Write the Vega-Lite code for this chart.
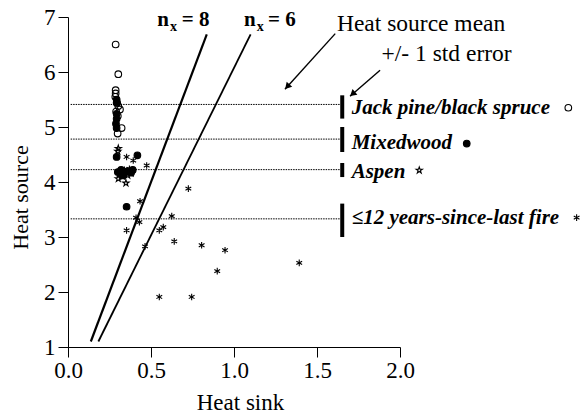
{
  "$schema": "https://vega.github.io/schema/vega-lite/v6.json",
  "width": 332,
  "height": 330,
  "autosize": "none",
  "padding": {"left": 68, "top": 17, "right": 181, "bottom": 68},
  "background": "white",
  "config": {
    "view": {"stroke": null},
    "font": "Liberation Serif, Times New Roman, serif",
    "axis": {"domainColor": "black", "tickColor": "black", "labelColor": "black", "titleColor": "black", "labelFont": "Liberation Serif, Times New Roman, serif", "titleFont": "Liberation Serif, Times New Roman, serif", "labelFontSize": 23, "titleFontSize": 23, "titleFontWeight": "normal", "grid": false, "tickSize": 10, "domainWidth": 1, "tickWidth": 1, "labelFlush": false, "labelOverlap": false}
  },
  "datasets": {
    "pts": [
      {"x": 0.287, "y": 6.50, "g": "jp"}, {"x": 0.303, "y": 5.96, "g": "jp"}, {"x": 0.287, "y": 5.67, "g": "jp"}, {"x": 0.287, "y": 5.61, "g": "jp"}, {"x": 0.285, "y": 5.55, "g": "jp"}, {"x": 0.296, "y": 5.44, "g": "jp"}, {"x": 0.303, "y": 5.38, "g": "jp"}, {"x": 0.313, "y": 5.32, "g": "jp"}, {"x": 0.290, "y": 5.28, "g": "jp"}, {"x": 0.300, "y": 5.20, "g": "jp"}, {"x": 0.323, "y": 4.98, "g": "jp"}, {"x": 0.299, "y": 4.88, "g": "jp"},
      {"x": 0.293, "y": 5.50, "g": "mw"}, {"x": 0.293, "y": 5.44, "g": "mw"}, {"x": 0.293, "y": 5.24, "g": "mw"}, {"x": 0.293, "y": 5.15, "g": "mw"}, {"x": 0.289, "y": 5.06, "g": "mw"}, {"x": 0.293, "y": 4.98, "g": "mw"}, {"x": 0.293, "y": 4.455, "g": "mw"}, {"x": 0.418, "y": 4.485, "g": "mw"}, {"x": 0.353, "y": 3.55, "g": "mw"}, {"x": 0.30, "y": 4.18, "g": "mw"}, {"x": 0.32, "y": 4.22, "g": "mw"}, {"x": 0.34, "y": 4.16, "g": "mw"}, {"x": 0.36, "y": 4.20, "g": "mw"}, {"x": 0.38, "y": 4.17, "g": "mw"}, {"x": 0.39, "y": 4.22, "g": "mw"}, {"x": 0.33, "y": 4.12, "g": "mw"},
      {"x": 0.303, "y": 4.61, "g": "as"}, {"x": 0.300, "y": 4.56, "g": "as"}, {"x": 0.303, "y": 4.06, "g": "as"}, {"x": 0.349, "y": 3.98, "g": "as"}, {"x": 0.33, "y": 4.10, "g": "as"}, {"x": 0.36, "y": 4.12, "g": "as"}, {"x": 0.315, "y": 4.17, "g": "as"}, {"x": 0.38, "y": 4.16, "g": "as"},
      {"x": 0.353, "y": 4.455, "g": "fi"}, {"x": 0.393, "y": 4.39, "g": "fi"}, {"x": 0.474, "y": 4.30, "g": "fi"}, {"x": 0.34, "y": 4.22, "g": "fi"}, {"x": 0.37, "y": 4.24, "g": "fi"}, {"x": 0.31, "y": 4.12, "g": "fi"}, {"x": 0.434, "y": 3.65, "g": "fi"}, {"x": 0.41, "y": 3.35, "g": "fi"}, {"x": 0.43, "y": 3.27, "g": "fi"}, {"x": 0.625, "y": 3.38, "g": "fi"}, {"x": 0.55, "y": 3.12, "g": "fi"}, {"x": 0.574, "y": 3.18, "g": "fi"}, {"x": 0.353, "y": 3.12, "g": "fi"}, {"x": 0.64, "y": 2.92, "g": "fi"}, {"x": 0.805, "y": 2.85, "g": "fi"}, {"x": 0.946, "y": 2.76, "g": "fi"}, {"x": 0.899, "y": 2.38, "g": "fi"}, {"x": 0.745, "y": 1.91, "g": "fi"}, {"x": 0.55, "y": 1.91, "g": "fi"}, {"x": 1.393, "y": 2.53, "g": "fi"}, {"x": 0.725, "y": 3.88, "g": "fi"}, {"x": 0.464, "y": 2.83, "g": "fi"}
    ],
    "legsym": [
      {"x": 3.014, "y": 5.35, "g": "jp"}, {"x": 2.402, "y": 4.698, "g": "mw"}, {"x": 2.116, "y": 4.213, "g": "as"}, {"x": 3.064, "y": 3.353, "g": "fi"}
    ],
    "means": [
      {"x": 0.016, "x2": 1.64, "y": 5.41}, {"x": 0.016, "x2": 1.64, "y": 4.78}, {"x": 0.016, "x2": 1.64, "y": 4.225}, {"x": 0.016, "x2": 1.64, "y": 3.33}
    ],
    "bars": [
      {"x": 1.652, "y": 5.576, "y2": 5.153}, {"x": 1.652, "y": 5.0, "y2": 4.545}, {"x": 1.652, "y": 4.345, "y2": 4.09}, {"x": 1.652, "y": 3.607, "y2": 3.0}
    ],
    "lines": [
      {"x": 0.1375, "y": 1.1, "x2": 0.836, "y2": 6.685, "k": "n8"},
      {"x": 0.183, "y": 1.1, "x2": 1.10, "y2": 6.685, "k": "n6"},
      {"x": 1.610, "y": 6.698, "x2": 1.307, "y2": 5.685, "k": "arrow"},
      {"x": 1.880, "y": 6.031, "x2": 1.699, "y2": 5.559, "k": "arrow"}
    ],
    "head1": [{"x": 1.321, "y": 5.733}],
    "head2": [{"x": 1.714, "y": 5.60}],
    "ann": [
      {"x": 1.62, "y": 6.74, "t": "Heat source mean"},
      {"x": 1.889, "y": 6.195, "t": "+/- 1 std error"}
    ],
    "nbig": [
      {"x": 0.538, "y": 6.831, "t": "n"}, {"x": 0.685, "y": 6.831, "t": "= 8"},
      {"x": 1.060, "y": 6.831, "t": "n"}, {"x": 1.205, "y": 6.831, "t": "= 6"}
    ],
    "nsub": [
      {"x": 0.614, "y": 6.745, "t": "x"}, {"x": 1.137, "y": 6.745, "t": "x"}
    ],
    "legtext": [
      {"x": 1.709, "y": 5.244, "t": "Jack pine/black spruce"},
      {"x": 1.709, "y": 4.607, "t": "Mixedwood"},
      {"x": 1.709, "y": 4.08, "t": "Aspen"},
      {"x": 1.709, "y": 3.244, "t": "≤12 years-since-last fire"}
    ]
  },
  "encoding": {
    "x": {"field": "x", "type": "quantitative", "scale": {"domain": [0, 2], "nice": false, "zero": false},
      "axis": {"values": [0, 0.5, 1, 1.5, 2], "format": ".1f", "title": "Heat sink", "labelPadding": 2, "titleX": 172, "titleY": 62, "titleBaseline": "alphabetic", "titleAlign": "center"}},
    "y": {"field": "y", "type": "quantitative", "scale": {"domain": [1, 7], "nice": false, "zero": false},
      "axis": {"values": [1, 2, 3, 4, 5, 6, 7], "format": "d", "title": "Heat source", "titleFontSize": 22, "labelPadding": 3, "titleX": -48, "titleY": 180, "titleAngle": 270, "titleAlign": "center", "titleBaseline": "middle"}}
  },
  "layer": [
    {
      "data": {"name": "means"},
      "mark": {"type": "rule", "color": "black", "strokeWidth": 1, "strokeDash": [1.5, 1]},
      "encoding": {"x2": {"field": "x2"}}
    },
    {
      "data": {"name": "bars"},
      "mark": {"type": "rule", "color": "black", "strokeWidth": 4},
      "encoding": {"y2": {"field": "y2"}}
    },
    {
      "data": {"name": "lines"},
      "mark": {"type": "rule", "color": "black"},
      "encoding": {
        "x2": {"field": "x2"}, "y2": {"field": "y2"},
        "strokeWidth": {"field": "k", "type": "nominal", "scale": {"domain": ["n8", "n6", "arrow"], "range": [2.2, 1.4, 1.1]}, "legend": null}
      }
    },
    {
      "data": {"name": "head1"},
      "mark": {"type": "point", "shape": "triangle-up", "angle": 222, "filled": true, "color": "black", "size": 55, "opacity": 1}
    },
    {
      "data": {"name": "head2"},
      "mark": {"type": "point", "shape": "triangle-up", "angle": 229, "filled": true, "color": "black", "size": 55, "opacity": 1}
    },
    {
      "data": {"name": "pts"},
      "mark": {"type": "point", "filled": true, "stroke": "black", "strokeWidth": 1.1, "opacity": 1},
      "encoding": {
        "shape": {"field": "g", "type": "nominal", "legend": null, "scale": {"domain": ["jp", "mw", "as", "fi"], "range": ["circle", "circle", "M0,-1L0.2245,-0.309L0.951,-0.309L0.3633,0.118L0.588,0.809L0,0.382L-0.588,0.809L-0.3633,0.118L-0.951,-0.309L-0.2245,-0.309Z", "M0,-1L0,1M-0.87,-0.5L0.87,0.5M-0.87,0.5L0.87,-0.5"]}},
        "fill": {"field": "g", "type": "nominal", "legend": null, "scale": {"domain": ["jp", "mw", "as", "fi"], "range": ["rgba(255,255,255,0)", "black", "rgba(255,255,255,0)", "rgba(255,255,255,0)"]}},
        "size": {"field": "g", "type": "nominal", "legend": null, "scale": {"domain": ["jp", "mw", "as", "fi"], "range": [44, 44, 60, 75]}}
      }
    },
    {
      "data": {"name": "legsym"},
      "mark": {"type": "point", "filled": true, "stroke": "black", "strokeWidth": 1.1, "opacity": 1},
      "encoding": {
        "shape": {"field": "g", "type": "nominal", "legend": null},
        "fill": {"field": "g", "type": "nominal", "legend": null},
        "size": {"field": "g", "type": "nominal", "legend": null}
      }
    },
    {
      "data": {"name": "ann"},
      "mark": {"type": "text", "align": "left", "baseline": "alphabetic", "font": "Liberation Serif, Times New Roman, serif", "fontSize": 23.5, "color": "black"},
      "encoding": {"text": {"field": "t"}}
    },
    {
      "data": {"name": "nbig"},
      "mark": {"type": "text", "align": "left", "baseline": "alphabetic", "font": "Liberation Serif, Times New Roman, serif", "fontSize": 21, "fontWeight": "bold", "color": "black"},
      "encoding": {"text": {"field": "t"}}
    },
    {
      "data": {"name": "nsub"},
      "mark": {"type": "text", "align": "left", "baseline": "alphabetic", "font": "Liberation Serif, Times New Roman, serif", "fontSize": 14, "fontWeight": "bold", "color": "black"},
      "encoding": {"text": {"field": "t"}}
    },
    {
      "data": {"name": "legtext"},
      "mark": {"type": "text", "align": "left", "baseline": "alphabetic", "font": "Liberation Serif, Times New Roman, serif", "fontSize": 21, "fontWeight": "bold", "fontStyle": "italic", "color": "black"},
      "encoding": {"text": {"field": "t"}}
    }
  ]
}
